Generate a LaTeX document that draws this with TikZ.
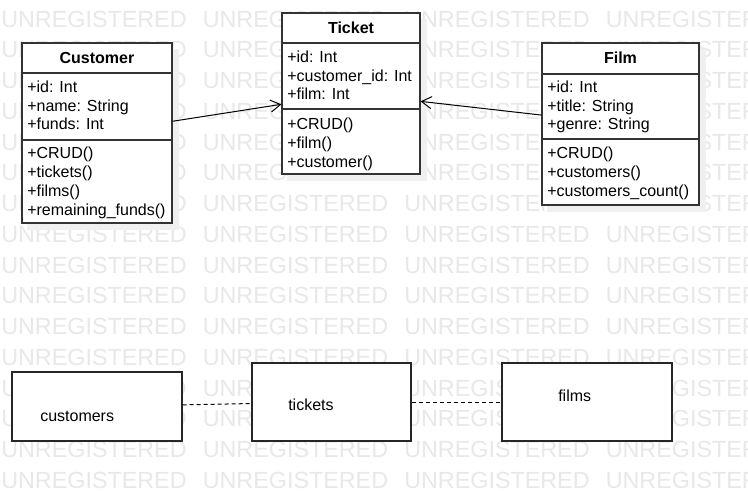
\documentclass[tikz,border=0pt]{standalone}
\usepackage{fontspec}
\setmainfont{Liberation Sans}
\usetikzlibrary{arrows.meta}
\usetikzlibrary{fit}

\tikzset{
  classbox/.style={draw=black!80, line width=0.8pt, fill=white, inner sep=0pt},
  classline/.style={draw=black!80, line width=0.8pt},
  classshadow/.style={fill=black!6},
  classname/.style={font=\bfseries\fontsize{12}{14}\selectfont, anchor=base, inner sep=0pt},
  member/.style={font=\fontsize{12}{14}\selectfont, anchor=base west, inner sep=0pt},
  wmark/.style={font=\fontsize{17.5}{20}\selectfont, text=black!9, anchor=west, inner sep=0pt},
  assoc/.style={line width=0.75pt, -{Straight Barb[length=7.5pt,width=9pt]}},
  plainbox/.style={draw=black!85, line width=0.8pt, fill=white, inner sep=0pt},
  link/.style={line width=0.75pt, dash pattern=on 3pt off 2.25pt},
}

\begin{document}
\begin{tikzpicture}[x=0.75pt,y=-0.75pt]
	\clip (0,0) rectangle (748,491);
	\fill[white] (0,0) rectangle (748,491);
	
	%SFONDO
	\foreach \r in {0,...,15}
		\foreach \c in {0,...,3}
			\node[wmark] (wm-\r-\c) at (1+201.5*\c, 19+30.75*\r) {UNREGISTERED};
	
	%CUSTOMER
	\fill[classshadow] (27,49) rectangle (179,230);
	\node[classbox, fit={(22,43) (172,223)}] (cust) {};
	\draw[classline] (cust.west |- 0,73) -- (cust.east |- 0,73);
	\draw[classline] (cust.west |- 0,140) -- (cust.east |- 0,140);
	\node[classname] (cust-name) at (97,63.5) {Customer};
	\foreach \t [count=\i] in {+id: Int, +name: String, +funds: Int}
		\node[member] (cust-a\i) at (27, 73.8+18.7*\i) {\t};
	\foreach \t [count=\i] in {+CRUD(), +tickets(), +films(), +remaining\_funds()}
		\node[member] (cust-m\i) at (27, 139.5+19*\i) {\t};
	
	%TICKET
	\fill[classshadow] (287,19) rectangle (427,181);
	\node[classbox, fit={(282,13) (420,174)}] (tick) {};
	\draw[classline] (tick.west |- 0,43) -- (tick.east |- 0,43);
	\draw[classline] (tick.west |- 0,109) -- (tick.east |- 0,109);
	\node[classname] (tick-name) at (351,33.5) {Ticket};
	\foreach \t [count=\i] in {+id: Int, +customer\_id: Int, +film: Int}
		\node[member] (tick-a\i) at (287, 43.8+18.7*\i) {\t};
	\foreach \t [count=\i] in {+CRUD(), +film(), +customer()}
		\node[member] (tick-m\i) at (287, 110.5+19*\i) {\t};
	
	%FILM
	\fill[classshadow] (547,49) rectangle (706,212);
	\node[classbox, fit={(542,43) (699,205)}] (film) {};
	\draw[classline] (film.west |- 0,74) -- (film.east |- 0,74);
	\draw[classline] (film.west |- 0,139) -- (film.east |- 0,139);
	\node[classname] (film-name) at (620.5,63.5) {Film};
	\foreach \t [count=\i] in {+id: Int, +title: String, +genre: String}
		\node[member] (film-a\i) at (547, 73.8+18.7*\i) {\t};
	\foreach \t [count=\i] in {+CRUD(), +customers(), +customers\_count()}
		\node[member] (film-m\i) at (547, 139.5+19*\i) {\t};
	
	%associazioni
	\draw[assoc] (cust) -- (tick);
	\draw[assoc] (film) -- (tick);
	
	%TABELLE
	\node[plainbox, fit={(12,372) (182,441)}] (customers) {};
	\node[member] (customers-lbl) at (40,421) {customers};
	\node[plainbox, fit={(252,363) (411,441)}] (tickets) {};
	\node[member] (tickets-lbl) at (288,410.5) {tickets};
	\node[plainbox, fit={(502,363) (672,441)}] (films) {};
	\node[member] (films-lbl) at (558,401.5) {films};
	\draw[link] (customers) -- (tickets);
	\draw[link] (tickets) -- (films);
	
\end{tikzpicture}
\end{document}
